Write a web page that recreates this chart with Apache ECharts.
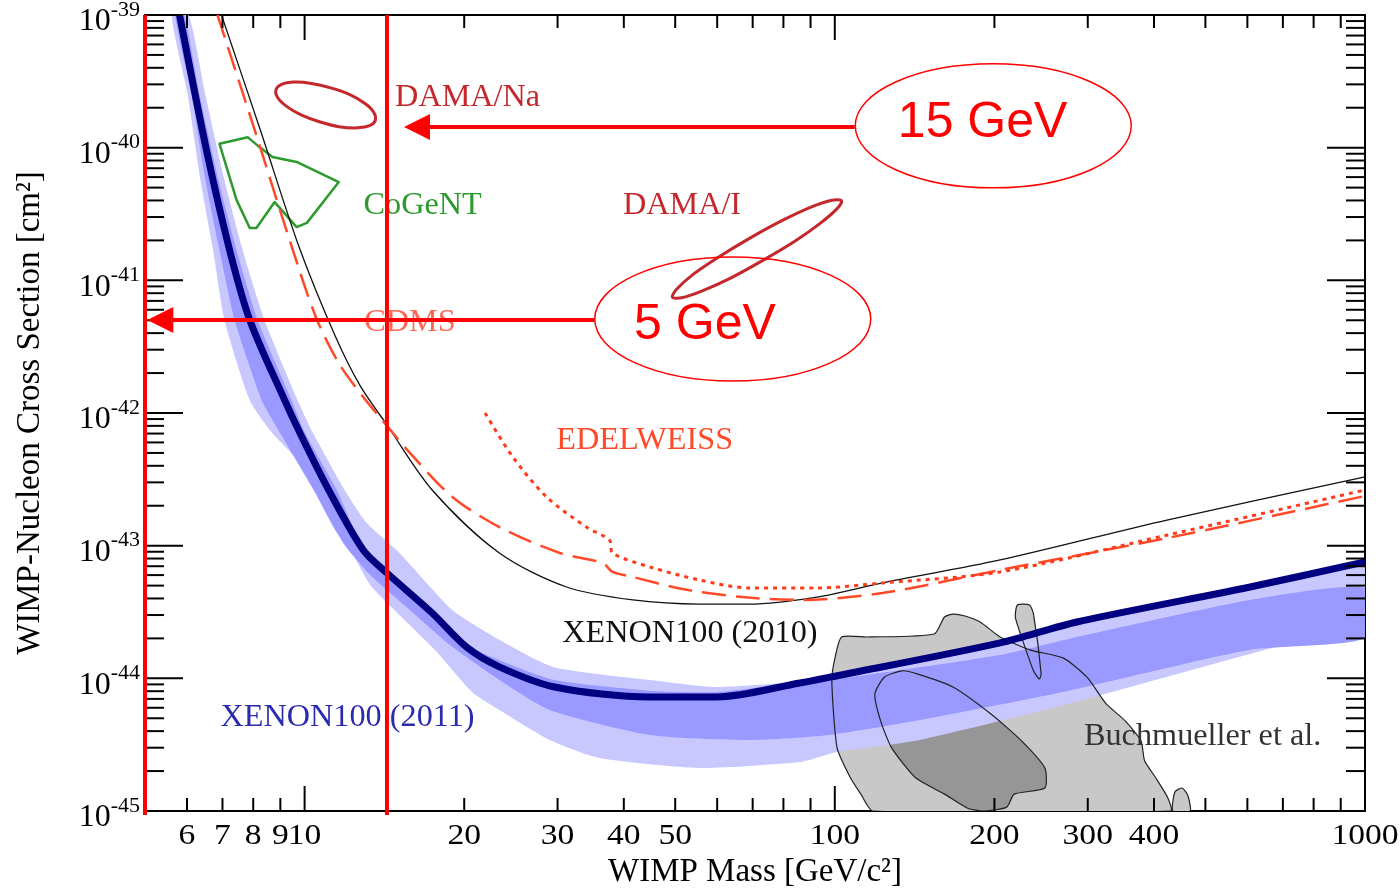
<!DOCTYPE html>
<html>
<head>
<meta charset="utf-8">
<title>WIMP-Nucleon Cross Section</title>
<script src="https://cdn.jsdelivr.net/npm/echarts@6/dist/echarts.min.js"></script>
<style>
html, body { margin: 0; padding: 0; background: #fff; }
#chart { width: 1400px; height: 888px; }
</style>
</head>
<body>
<div id="chart"></div>
<script>
// WIMP mass in GeV/c^2, cross section in cm^2
const massMin = 5, massMax = 1000;
const expMin = -45, expMax = -39;

const massTicks = [6, 7, 8, 9, 10, 20, 30, 40, 50, 60, 70, 80, 90, 100, 200, 300, 400, 500, 600, 700, 800, 900, 1000];
const massMajorTicks = [10, 100, 1000];
const massTickLabels = [6, 7, 8, 9, 10, 20, 30, 40, 50, 100, 200, 300, 400, 1000];
const sigmaDecades = [-45, -44, -43, -42, -41, -40, -39];

// XENON100 (2011) limit and its expected sensitivity bands
const xenon2011 = [[5.81, 1e-39], [6.53, 9.6e-41], [7.22, 1.69e-41], [7.88, 5.03e-42], [9.17, 1.25e-42], [9.78, 7.19e-43],
  [11.1, 2.63e-43], [12.9, 9.27e-44], [14.3, 6.22e-44], [17.4, 3.11e-44], [20.2, 1.72e-44], [23.3, 1.22e-44],
  [29.6, 8.61e-45], [44.8, 7.24e-45], [59.9, 7.24e-45], [85.9, 9.23e-45], [97.8, 1.02e-44], [205, 1.85e-44],
  [286, 2.66e-44], [607, 4.88e-44], [1000, 7.54e-44]];
const band2Upper = [[6.04, 1e-39], [6.5, 2.49e-40], [7.06, 5.7e-41], [7.64, 1.69e-41], [8.4, 5.03e-42], [9.7, 1.25e-42],
  [10.35, 7.19e-43], [11.9, 2.63e-43], [13.1, 1.48e-43], [15.1, 8.81e-44], [19.0, 3.27e-44], [23.3, 1.95e-44],
  [29.4, 1.22e-44], [44.8, 9.72e-45], [59.9, 8.61e-45], [92.5, 9.72e-45], [97.8, 1.05e-44], [205, 1.8e-44],
  [286, 2.6e-44], [607, 4.75e-44], [1000, 7.3e-44]];
const band2Lower = [[5.62, 1e-39], [6.02, 2.49e-40], [6.36, 5.7e-41], [6.72, 1.69e-41], [7.06, 5.03e-42], [7.88, 1.25e-42],
  [8.66, 7.19e-43], [9.78, 4.2e-43], [11.4, 1.31e-43], [12.2, 9.27e-44], [13.3, 5.06e-44], [15.1, 3.0e-44],
  [17.6, 1.64e-44], [20.7, 7.89e-45], [23.3, 5.78e-45], [29.0, 3.43e-45], [36.0, 2.51e-45], [55.6, 2.11e-45],
  [85.9, 2.34e-45], [101, 2.79e-45], [142, 3.38e-45], [275, 6.41e-45], [748, 1.91e-44], [1000, 2.44e-44]];
const band1Upper = [[5.93, 1e-39], [6.34, 2.49e-40], [6.88, 5.7e-41], [7.44, 1.69e-41], [8.15, 5.03e-42], [9.45, 1.25e-42],
  [10.0, 7.19e-43], [11.5, 2.63e-43], [12.7, 1.1e-43], [14.5, 6.01e-44], [17.4, 3.11e-44], [20.2, 1.78e-44],
  [23.3, 1.37e-44], [29.6, 9.72e-45], [44.8, 8.07e-45], [59.9, 7.89e-45], [85.9, 9.4e-45], [97.8, 9.72e-45],
  [205, 1.5e-44], [286, 2.05e-44], [607, 3.9e-44], [1000, 4.8e-44]];
const band1Lower = [[5.7, 1e-39], [6.12, 2.49e-40], [6.5, 5.7e-41], [6.91, 1.69e-41], [7.38, 5.03e-42], [8.3, 1.25e-42],
  [8.97, 7.19e-43], [10.4, 2.63e-43], [11.9, 1.01e-43], [13.3, 6.01e-44], [15.8, 3.27e-44], [18.8, 1.78e-44],
  [23.3, 9.72e-45], [29.0, 5.78e-45], [44.8, 3.74e-45], [69.1, 3.43e-45], [97.8, 3.74e-45], [142, 4.78e-45],
  [275, 8.03e-45], [607, 1.64e-44], [1000, 2.01e-44]];

// other limits
const xenon2010 = [[6.97, 1e-39], [8.26, 1.34e-40], [9.78, 1.75e-41], [11.4, 3.87e-42], [12.7, 1.63e-42], [14.3, 8.12e-43],
  [17.4, 2.63e-43], [23.3, 8.81e-44], [31.2, 4.88e-44], [41.6, 3.9e-44], [55.6, 3.63e-44], [69.1, 3.63e-44],
  [92.5, 4.1e-44], [123, 5.24e-44], [205, 7.8e-44], [423, 1.56e-43], [1000, 3.3e-43]];
const cdms = [[6.85, 1e-39], [8.05, 1.36e-40], [9.37, 2.01e-41], [10.5, 5.3e-42], [11.6, 2.38e-42], [12.9, 1.32e-42],
  [14.0, 8.86e-43], [15.8, 5.0e-43], [19.0, 2.33e-43], [23.3, 1.38e-43], [30.3, 8.81e-44], [36.5, 7.4e-44],
  [38.1, 6.34e-44], [41.6, 5.81e-44], [51.6, 4.71e-44], [67.0, 4.1e-44], [85.9, 3.9e-44], [123, 4.4e-44],
  [205, 6.56e-44], [423, 1.14e-43], [1000, 2.37e-43]];
const edelweiss = [[21.9, 1.0e-42], [24.7, 4.66e-43], [28.6, 2.33e-43], [34.0, 1.38e-43], [37.6, 1.1e-43], [38.1, 8.81e-44],
  [44.8, 6.91e-44], [55.6, 5.51e-44], [69.1, 4.8e-44], [92.5, 4.8e-44], [123, 5.24e-44], [205, 6.34e-44],
  [423, 1.2e-43], [1000, 2.63e-43]];

// signal regions
const damaNa = [[13.6, 1.61e-40], [13.3, 1.47e-40], [12.6, 1.41e-40], [11.6, 1.44e-40], [10.7, 1.56e-40], [9.87, 1.76e-40],
  [9.26, 2.04e-40], [8.9, 2.38e-40], [8.83, 2.73e-40], [9.05, 3.0e-40], [9.56, 3.12e-40], [10.3, 3.05e-40],
  [11.2, 2.82e-40], [12.2, 2.5e-40], [13.0, 2.15e-40], [13.5, 1.85e-40]];
const damaI = [[103, 3.98e-41], [101, 3.47e-41], [94.1, 2.71e-41], [84.2, 1.98e-41], [73.3, 1.42e-41], [63.6, 1.04e-41],
  [56.1, 8.3e-42], [51.4, 7.38e-42], [49.4, 7.45e-42], [50.3, 8.55e-42], [53.9, 1.1e-41], [60.4, 1.5e-41],
  [69.3, 2.09e-41], [79.8, 2.84e-41], [90.4, 3.58e-41], [98.8, 4.02e-41]];
const cogent = [[6.91, 1.07e-40], [7.81, 1.2e-40], [8.22, 1.01e-40], [8.7, 8.51e-41], [9.66, 7.8e-41], [11.6, 5.51e-41],
  [10.1, 2.71e-41], [9.66, 2.52e-41], [8.78, 3.89e-41], [8.11, 2.48e-41], [7.88, 2.48e-41], [7.44, 4.04e-41]];

// Buchmueller et al. CMSSM fit regions
const buchOuter = [[103, 2.05e-44], [116, 2.05e-44], [154, 2.16e-44], [161, 2.9e-44], [167, 3.05e-44], [176, 2.95e-44],
  [188, 2.66e-44], [205, 2.05e-44], [233, 1.64e-44], [270, 1.42e-44], [299, 1.02e-44], [325, 6.41e-45], [353, 4.78e-45],
  [378, 3.38e-45], [384, 2.39e-45], [403, 1.78e-45], [425, 1.25e-45], [430, 1e-45], [118, 1e-45], [112, 1.34e-45],
  [107, 1.78e-45], [101, 2.99e-45], [98.7, 9.55e-45], [100, 1.4e-44]];
const buchFinger = [[221, 3.57e-44], [233, 3.57e-44], [237, 3.05e-44], [245, 1.08e-44], [243, 9.89e-45], [237, 1.14e-44],
  [225, 2.05e-44], [219, 2.9e-44]];
const buchBump = [[434, 1e-45], [438, 1.39e-45], [452, 1.49e-45], [463, 1.32e-45], [468, 1e-45]];
const buchInner = [[124, 1.02e-44], [134, 1.14e-44], [143, 1.08e-44], [167, 8.61e-45], [197, 5.39e-45], [225, 3.38e-45],
  [249, 2.11e-45], [249, 1.49e-45], [218, 1.34e-45], [211, 1.07e-45], [191, 1e-45], [178, 1.05e-45], [161, 1.34e-45],
  [142, 1.78e-45], [128, 2.99e-45], [122, 4.78e-45], [119, 7.62e-45]];

// labels inside the plot
const labelNames = ['DAMA/Na', 'CoGeNT', 'DAMA/I', 'CDMS', 'EDELWEISS', 'XENON100 (2010)', 'XENON100 (2011)', 'Buchmueller et al.'];
const labelAt = [[20.3, 2.37e-40], [16.7, 3.63e-41], [51.5, 3.63e-41], [15.8, 4.78e-42], [43.8, 6.15e-43], [53.3, 2.16e-44],
  [12.05, 5.03e-45], [494, 3.61e-45]];

// red markers added on top
const markerMass = [5, 14.3];
const arrowFrom = [[109, 1.43e-40], [35.2, 5.03e-42]];
const arrowTo = [[15.4, 1.43e-40], [5.05, 5.03e-42]];
const calloutText = ['15 GeV', '5 GeV'];
const calloutCenter = [[199, 1.46e-40], [64.2, 5.11e-42]];
const calloutTextAt = [[190, 1.53e-40], [56.9, 4.6e-42]];

const serif = '"Liberation Serif", "Times New Roman", serif';
const sans = '"Liberation Sans", Arial, sans-serif';
const labelColors = ['#c4272c', '#2c9a2c', '#c4272c', '#ff6a55', '#ff4a2a', '#111111', '#2b2bb0', '#333333'];

function pt(p) { return [Math.log10(p[0]), Math.log10(p[1])]; }

function shapeSeries(pts, style, z, smooth) {
  return {
    type: 'custom', silent: true, clip: true, z: z,
    data: [pt(pts[0])],
    renderItem: function (params, api) {
      return {
        type: 'polygon',
        shape: { points: pts.map(function (p) { return api.coord(pt(p)); }), smooth: smooth || 0 },
        style: style
      };
    }
  };
}

function lineSeries(pts, color, width, type, z) {
  return {
    type: 'line', silent: true, z: z, symbol: 'none', smooth: 0.3,
    data: pts.map(pt),
    lineStyle: { color: color, width: width, type: type }
  };
}

function renderTicks(params, api) {
  var children = [];
  var lb = api.coord([Math.log10(massMin), expMin]);
  var rt = api.coord([Math.log10(massMax), expMax]);
  function tick(x1, y1, x2, y2) {
    children.push({ type: 'line', shape: { x1: x1, y1: y1, x2: x2, y2: y2 }, style: { stroke: '#000', lineWidth: 2 } });
  }
  massTicks.forEach(function (m) {
    var x = api.coord([Math.log10(m), expMin])[0];
    var len = massMajorTicks.indexOf(m) >= 0 ? 25 : 13;
    tick(x, lb[1], x, lb[1] - len);
    tick(x, rt[1], x, rt[1] + len);
  });
  massTickLabels.forEach(function (m) {
    var x = api.coord([Math.log10(m), expMin])[0];
    // the source figure is a little stretched sideways
    children.push({
      type: 'text', x: x, y: lb[1] + 10, scaleX: 1.12,
      style: { text: String(m), x: 0, y: 0, align: 'center', verticalAlign: 'top', fontSize: 30, fontFamily: serif, fill: '#000' }
    });
  });
  sigmaDecades.forEach(function (d) {
    var y = api.coord([0, d])[1];
    tick(lb[0], y, lb[0] + 38, y);
    tick(rt[0], y, rt[0] - 38, y);
    if (d < expMax) {
      for (var k = 2; k <= 9; k++) {
        var ym = api.coord([0, d + Math.log10(k)])[1];
        tick(lb[0], ym, lb[0] + 19, ym);
        tick(rt[0], ym, rt[0] - 19, ym);
      }
    }
  });
  return { type: 'group', children: children };
}

function renderLabels(params, api) {
  var i = params.dataIndex;
  var p = api.coord(pt(labelAt[i]));
  return {
    type: 'text', x: p[0], y: p[1], scaleX: 1.04,
    style: { text: labelNames[i], x: 0, y: 0, align: 'center', verticalAlign: 'middle', fontSize: 31, fontFamily: serif, fill: labelColors[i] }
  };
}

function renderMarkers(params, api) {
  var children = [];
  var red = '#ff0000';
  markerMass.forEach(function (m) {
    var top = api.coord([Math.log10(m), expMax]);
    var bot = api.coord([Math.log10(m), expMin]);
    children.push({ type: 'line', shape: { x1: top[0], y1: top[1], x2: bot[0], y2: bot[1] + 4 }, style: { stroke: red, lineWidth: 4 } });
  });
  arrowFrom.forEach(function (f, i) {
    var a = api.coord(pt(f));
    var b = api.coord(pt(arrowTo[i]));
    children.push({ type: 'line', shape: { x1: a[0], y1: a[1], x2: b[0] + 20, y2: b[1] }, style: { stroke: red, lineWidth: 4 } });
    children.push({ type: 'polygon', shape: { points: [[b[0], b[1]], [b[0] + 26, b[1] - 13], [b[0] + 26, b[1] + 13]] }, style: { fill: red } });
  });
  calloutCenter.forEach(function (c, i) {
    var p = api.coord(pt(c));
    children.push({ type: 'ellipse', shape: { cx: p[0], cy: p[1], rx: 138, ry: 62 }, style: { fill: 'none', stroke: red, lineWidth: 1.5 } });
    var t = api.coord(pt(calloutTextAt[i]));
    children.push({
      type: 'text',
      style: { text: calloutText[i], x: t[0], y: t[1], align: 'center', verticalAlign: 'middle', fontSize: 50, fontFamily: sans, fill: red }
    });
  });
  return { type: 'group', children: children };
}

var chart = echarts.init(document.getElementById('chart'));

var series = [
  shapeSeries(buchOuter, { fill: '#c8c8c8' }, 1, 0.2),
  shapeSeries(buchFinger, { fill: '#c8c8c8' }, 1, 0.2),
  shapeSeries(buchBump, { fill: '#c8c8c8' }, 1, 0.2),
  shapeSeries(buchInner, { fill: '#969696' }, 1, 0.2),
  shapeSeries(band2Upper.concat(band2Lower.slice().reverse()), { fill: '#c8c8ff' }, 2, 0.2),
  shapeSeries(band1Upper.concat(band1Lower.slice().reverse()), { fill: '#9999ff' }, 3, 0.2),
  shapeSeries(buchOuter, { fill: 'none', stroke: '#222', lineWidth: 1.2 }, 4, 0.2),
  shapeSeries(buchFinger, { fill: 'none', stroke: '#222', lineWidth: 1.2 }, 4, 0.2),
  shapeSeries(buchBump, { fill: 'none', stroke: '#222', lineWidth: 1.2 }, 4, 0.2),
  shapeSeries(buchInner, { fill: 'none', stroke: '#222', lineWidth: 1.2 }, 4, 0.2),
  shapeSeries(damaNa, { fill: 'none', stroke: '#c4272c', lineWidth: 3 }, 5, 0.3),
  shapeSeries(damaI, { fill: 'none', stroke: '#c4272c', lineWidth: 3 }, 5, 0.3),
  shapeSeries(cogent, { fill: 'none', stroke: '#2c9a2c', lineWidth: 2.5, lineJoin: 'round' }, 5, 0),
  lineSeries(xenon2010, '#111', 1.3, 'solid', 6),
  lineSeries(cdms, '#ff4a2a', 2.5, [24, 10], 6),
  lineSeries(edelweiss, '#ff3a1a', 3, [4, 5], 6),
  lineSeries(xenon2011, '#000080', 7, 'solid', 7),
  {
    type: 'custom', silent: true, clip: false, z: 8,
    data: labelAt.map(pt),
    renderItem: renderLabels
  },
  {
    type: 'custom', silent: true, clip: false, z: 9,
    data: [[Math.log10(massMin), expMin]],
    renderItem: renderTicks
  },
  {
    type: 'custom', silent: true, clip: false, z: 10,
    data: [[Math.log10(massMin), expMin]],
    renderItem: renderMarkers
  }
];

var option = {
  animation: false,
  backgroundColor: '#fff',
  grid: {
    left: 145, right: 35, top: 15, bottom: 77, containLabel: false, outerBoundsMode: 'none',
    show: true, borderColor: '#000', borderWidth: 2
  },
  xAxis: {
    type: 'value', min: Math.log10(massMin), max: Math.log10(massMax),
    name: 'WIMP Mass [GeV/c²]', nameLocation: 'middle', nameGap: 45,
    nameTextStyle: { fontFamily: serif, fontSize: 33, color: '#000' },
    axisLine: { show: false }, axisTick: { show: false }, axisLabel: { show: false }, splitLine: { show: false }
  },
  yAxis: {
    type: 'value', min: expMin, max: expMax, interval: 1,
    name: 'WIMP-Nucleon Cross Section [cm²]', nameLocation: 'middle', nameGap: 98,
    nameTextStyle: { fontFamily: serif, fontSize: 33, color: '#000' },
    axisLine: { show: false }, axisTick: { show: false }, splitLine: { show: false },
    axisLabel: {
      margin: 5, showMinLabel: true, showMaxLabel: true, padding: [7, 0, 0, 0],
      formatter: function (v) { return '{b|10}{s|' + v + '}'; },
      rich: {
        b: { fontFamily: serif, fontSize: 32, color: '#000', verticalAlign: 'bottom' },
        s: { fontFamily: serif, fontSize: 22, color: '#000', verticalAlign: 'bottom', padding: [0, 0, 17, 0] }
      }
    }
  },
  series: series
};

option && chart.setOption(option);
</script>
</body>
</html>
